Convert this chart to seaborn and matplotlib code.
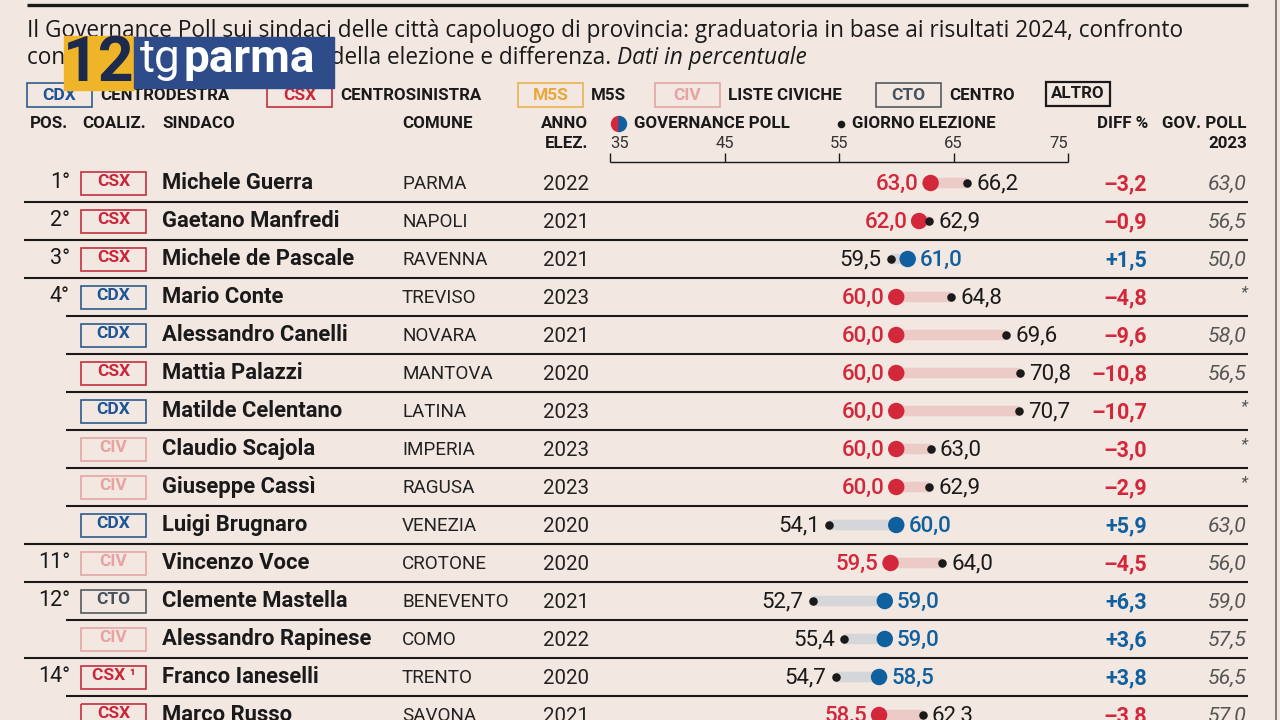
import numpy as np
import pandas as pd
import matplotlib
matplotlib.use("Agg")
import matplotlib.pyplot as plt
import seaborn as sns
from matplotlib.patches import Rectangle, Wedge

# ==== dati ====
pos_labels = ["1°", "2°", "3°", "4°", "", "", "", "", "", "", "11°", "12°", "", "14°", ""]
coalizioni = ["CSX", "CSX", "CSX", "CDX", "CDX", "CSX", "CDX", "CIV", "CIV", "CDX",
              "CIV", "CTO", "CIV", "CSX ¹", "CSX"]
sindaci = ["Michele Guerra", "Gaetano Manfredi", "Michele de Pascale", "Mario Conte",
           "Alessandro Canelli", "Mattia Palazzi", "Matilde Celentano", "Claudio Scajola",
           "Giuseppe Cassì", "Luigi Brugnaro", "Vincenzo Voce", "Clemente Mastella",
           "Alessandro Rapinese", "Franco Ianeselli", "Marco Russo"]
comuni = ["PARMA", "NAPOLI", "RAVENNA", "TREVISO", "NOVARA", "MANTOVA", "LATINA", "IMPERIA",
          "RAGUSA", "VENEZIA", "CROTONE", "BENEVENTO", "COMO", "TRENTO", "SAVONA"]
anni = [2022, 2021, 2021, 2023, 2021, 2020, 2023, 2023, 2023, 2020, 2020, 2021, 2022, 2020, 2021]
gov_poll = [63.0, 62.0, 61.0, 60.0, 60.0, 60.0, 60.0, 60.0, 60.0, 60.0, 59.5, 59.0, 59.0, 58.5, 58.5]
giorno_elezione = [66.2, 62.9, 59.5, 64.8, 69.6, 70.8, 70.7, 63.0, 62.9, 54.1, 64.0, 52.7, 55.4, 54.7, 62.3]
diff = [-3.2, -0.9, 1.5, -4.8, -9.6, -10.8, -10.7, -3.0, -2.9, 5.9, -4.5, 6.3, 3.6, 3.8, -3.8]
gov_poll_2023 = ["63,0", "56,5", "50,0", "*", "58,0", "56,5", "*", "*", "*", "63,0",
                 "56,0", "59,0", "57,5", "56,5", "57,0"]

legend_codes = ["CDX", "CSX", "M5S", "CIV", "CTO"]
legend_names = ["CENTRODESTRA", "CENTROSINISTRA", "M5S", "LISTE CIVICHE", "CENTRO"]
scale_ticks = [35, 45, 55, 65, 75]

titolo_1 = ("Il Governance Poll sui sindaci delle città capoluogo di provincia: "
            "graduatoria in base ai risultati 2024, confronto")
titolo_2 = "con il voto ottenuto il giorno della elezione e differenza. "
titolo_2_it = "Dati in percentuale"

# ==== stile ====
BG = "#f3e7e1"
RED = "#d3283c"
BLUE = "#10609f"
PINK_BAR = "#eccac6"
GREY_BAR = "#d5d6da"
INK = "#1a1a1a"

COAL_STYLE = {
    "CDX": ("#2f5b8c", "#1d5596"),
    "CSX": ("#c3313f", "#c8283c"),
    "CIV": ("#e3a7a5", "#e6a3a1"),
    "CTO": ("#555a60", "#46525e"),
    "M5S": ("#e8b353", "#e6a83a"),
}

sns.set_theme(style="white")
plt.rcParams["font.family"] = ["Roboto", "DejaVu Sans"]

W, H = 1280, 720
ROW_Y0, ROW_H = 183, 38
X35, X75 = 610, 1068  # pixel della scala 35..75
NUM_FS = 16

df = pd.DataFrame({
    "pos": pos_labels, "coal": coalizioni, "sindaco": sindaci, "comune": comuni,
    "anno": anni, "gov": gov_poll, "elez": giorno_elezione, "diff": diff,
    "gov23": gov_poll_2023,
})
df["y"] = ROW_Y0 + ROW_H * np.arange(len(df))
df["dir"] = np.where(df["gov"] < df["elez"], "giu", "su")


def fmt(v):
    return f"{v:.1f}".replace(".", ",")


fig = plt.figure(figsize=(12.8, 7.2), dpi=100)
fig.patch.set_facecolor(BG)

# asse di sfondo in pixel
bg = fig.add_axes([0, 0, 1, 1])
bg.set_xlim(0, W)
bg.set_ylim(H, 0)
bg.axis("off")

# asse dati per il dumbbell
px_per_unit = (X75 - X35) / (scale_ticks[-1] - scale_ticks[0])
ax = fig.add_axes([0, 0, 1, 1])
ax.patch.set_alpha(0)

# --- intestazione ---
bg.hlines(5, 27, 1248, color=INK, lw=2.4)
sub = dict(fontsize=16.3, color=INK, va="center", family=["Open Sans", "DejaVu Sans"])
bg.text(27, 31, titolo_1, **sub)
t2 = bg.text(27, 58, titolo_2, **sub)
fig.canvas.draw()
inv = bg.transData.inverted()
ext = t2.get_window_extent()
x_end = inv.transform((ext.x1, ext.y0))[0]
bg.text(x_end, 58, titolo_2_it, style="italic", **sub)

# logo
bg.add_patch(Rectangle((64, 36), 70, 54, color="#f0b428", zorder=5))
bg.add_patch(Rectangle((134, 37), 200, 51, color="#2f4c8a", zorder=5))
bg.text(99, 64, "12", fontsize=45, weight="bold", color="#1b2a4d", ha="center",
        va="center", zorder=6)
bg.text(140, 59, "tg", fontsize=33, color="white", va="center", zorder=6)
bg.text(184, 59, "parma", fontsize=33, weight="bold", color="white", va="center", zorder=6)

# legenda coalizioni
legend_box_x = [27, 267, 518, 655, 876]
for code, name, bx in zip(legend_codes, legend_names, legend_box_x):
    edge, tcol = COAL_STYLE[code]
    bg.add_patch(Rectangle((bx, 83), 65, 24, fill=False, ec=edge, lw=1.2))
    bg.text(bx + 32.5, 95, code, fontsize=12.5, weight="bold", color=tcol,
            ha="center", va="center")
    bg.text(bx + 73, 95, name, fontsize=12.2, weight="bold", color=INK, va="center")
bg.add_patch(Rectangle((1046, 82), 64, 24, fill=False, ec=INK, lw=1.6))
bg.text(1078, 94, "ALTRO", fontsize=12.2, weight="bold", color=INK, ha="center", va="center")

# intestazioni colonne
hdr = dict(fontsize=12.2, weight="bold", color=INK, va="center")
bg.text(30, 124, "POS.", **hdr)
bg.text(82, 124, "COALIZ.", **hdr)
bg.text(162, 124, "SINDACO", **hdr)
bg.text(402, 124, "COMUNE", **hdr)
bg.text(588, 124, "ANNO", ha="right", **hdr)
bg.text(588, 143, "ELEZ.", ha="right", **hdr)
bg.add_patch(Wedge((619, 124), 7.5, 90, 270, color=RED))
bg.add_patch(Wedge((619, 124), 7.5, 270, 90, color=BLUE))
bg.text(634, 124, "GOVERNANCE POLL", **hdr)
bg.scatter([841], [124], s=30, color=INK, linewidths=0)
bg.text(852, 124, "GIORNO ELEZIONE", **hdr)
bg.text(1148, 124, "DIFF %", ha="right", **hdr)
bg.text(1247, 124, "GOV. POLL", ha="right", **hdr)
bg.text(1247, 143, "2023", ha="right", **hdr)

# scala 35..75
ax.hlines(162, scale_ticks[0], scale_ticks[-1], color=INK, lw=1.0)
for i, t in enumerate(scale_ticks):
    ax.vlines(t, 153, 162, color=INK, lw=1.0)
    ha = "left" if i == 0 else ("right" if i == len(scale_ticks) - 1 else "center")
    ax.text(t, 143, str(t), fontsize=12, color="#333333", ha=ha, va="center")

# --- righe ---
for i, r in df.iterrows():
    y = r["y"]
    if r["pos"]:
        bg.text(70, y, r["pos"], fontsize=15.5, color=INK, ha="right", va="center")
    code = r["coal"].split()[0]
    edge, tcol = COAL_STYLE[code]
    bg.add_patch(Rectangle((81, y - 11.5), 65, 23, fill=False, ec=edge, lw=1.2))
    bg.text(113.5, y - 1, r["coal"], fontsize=12.5, weight="bold", color=tcol,
            ha="center", va="center")
    bg.text(162, y, r["sindaco"], fontsize=15.8, weight="bold", color=INK, va="center")
    bg.text(402, y + 1, r["comune"], fontsize=13.6, color="#222222", va="center")
    bg.text(543, y + 1, str(r["anno"]), fontsize=14.8, color="#222222", va="center")

    dcol = RED if r["diff"] < 0 else BLUE
    sign = "\u2013" if r["diff"] < 0 else "+"
    bg.text(1147, y + 1, sign + fmt(abs(r["diff"])), fontsize=15.5, weight="bold",
            color=dcol, ha="right", va="center")
    star = r["gov23"] == "*"
    bg.text(1247, y - 4 if star else y + 1, r["gov23"],
            fontsize=12 if star else 15.3, style="italic",
            color="#555555", ha="right", va="center")

    # separatori
    if i < len(df) - 1:
        x_start = 24 if df.loc[i + 1, "pos"] else 66
        bg.hlines(y + 19, x_start, 1248, color=INK, lw=1.5)

# barre e punti
bar_cols = df["dir"].map({"giu": PINK_BAR, "su": GREY_BAR})
ax.hlines(df["y"], df["gov"], df["elez"], colors=bar_cols, lw=7.5, zorder=1)
sns.scatterplot(data=df, x="gov", y="y", hue="dir", palette={"giu": RED, "su": BLUE},
                s=140, linewidth=0, legend=False, ax=ax, zorder=3)
sns.scatterplot(data=df, x="elez", y="y", color=INK, s=38, linewidth=0,
                legend=False, ax=ax, zorder=4)

off_big = 12 / px_per_unit
off_small = 9 / px_per_unit
for _, r in df.iterrows():
    y = r["y"] + 1
    if r["dir"] == "giu":
        ax.text(r["gov"] - off_big, y, fmt(r["gov"]), fontsize=NUM_FS, weight="medium",
                color=RED, ha="right", va="center")
        ax.text(r["elez"] + off_small, y, fmt(r["elez"]), fontsize=NUM_FS,
                color=INK, ha="left", va="center")
    else:
        ax.text(r["gov"] + off_big, y, fmt(r["gov"]), fontsize=NUM_FS, weight="medium",
                color=BLUE, ha="left", va="center")
        ax.text(r["elez"] - off_small, y, fmt(r["elez"]), fontsize=NUM_FS,
                color=INK, ha="right", va="center")

ax.set_xlim(scale_ticks[0] - X35 / px_per_unit, scale_ticks[-1] + (W - X75) / px_per_unit)
ax.set_ylim(H, 0)
ax.axis("off")

# bordo destro della pagina
bg.vlines(1276, 0, H, color="#6d6866", lw=1.2)

fig.savefig("out.png", dpi=100, facecolor=BG)
